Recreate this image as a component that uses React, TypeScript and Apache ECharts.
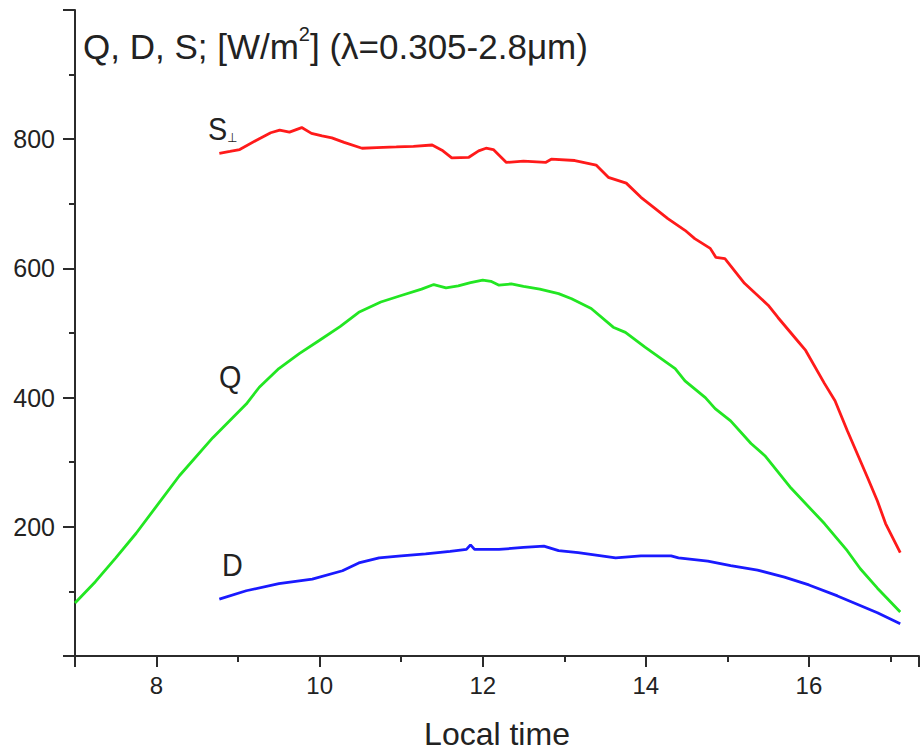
import React, { useEffect, useRef } from "react";
import * as echarts from "echarts";

// S⊥ (red)
const sTimes = [8.77, 8.9, 9.02, 9.22, 9.4, 9.51, 9.63, 9.78, 9.9, 10.03, 10.15, 10.3, 10.52, 10.7, 10.94, 11.15, 11.38, 11.5, 11.62, 11.83, 11.95, 12.04, 12.13, 12.29, 12.5, 12.77, 12.84, 13.13, 13.39, 13.54, 13.76, 13.94, 14.1, 14.27, 14.48, 14.6, 14.79, 14.86, 14.97, 15.21, 15.5, 15.62, 15.86, 15.96, 16.19, 16.32, 16.47, 16.72, 16.84, 16.94, 17.12];
const sValues = [778, 781, 784, 798, 810, 814, 811, 818, 809, 805, 802, 795, 786, 787, 788, 789, 791, 783, 771, 772, 782, 786, 784, 764, 766, 764, 769, 767, 760, 741, 732, 710, 694, 677, 659, 646, 631, 617, 615, 577, 543, 524, 488, 473, 422, 395, 349, 276, 240, 205, 160];

// Q (green)
const qTimes = [7.0, 7.25, 7.5, 7.75, 8.0, 8.28, 8.69, 9.1, 9.26, 9.5, 9.75, 9.99, 10.25, 10.48, 10.75, 11.0, 11.25, 11.4, 11.55, 11.7, 11.85, 12.0, 12.1, 12.2, 12.35, 12.5, 12.7, 12.93, 13.09, 13.33, 13.6, 13.75, 13.99, 14.36, 14.48, 14.73, 14.85, 15.04, 15.29, 15.46, 15.78, 16.19, 16.47, 16.63, 16.84, 17.12];
const qValues = [82, 115, 152, 190, 232, 279, 338, 390, 416, 445, 468, 488, 510, 532, 548, 558, 568, 575, 570, 573, 578, 582, 580, 574, 576, 572, 568, 561, 553, 538, 509, 501, 478, 445, 426, 400, 383, 364, 329, 310, 260, 205, 163, 135, 105, 68];

// D (blue)
const dTimes = [8.77, 9.1, 9.5, 9.91, 10.28, 10.48, 10.73, 11.0, 11.3, 11.6, 11.8, 11.85, 11.9, 12.2, 12.5, 12.75, 12.93, 13.17, 13.63, 13.94, 14.31, 14.4, 14.76, 15.04, 15.37, 15.7, 16.0, 16.35, 16.84, 17.12];
const dValues = [88, 101, 112, 119, 132, 144, 152, 155, 158, 162, 165, 172, 165, 165, 168, 170, 163, 160, 152, 155, 155, 152, 147, 140, 133, 122, 110, 93, 67, 50];

const xMin = 7;
const xMax = 17.35;
const yMin = 0;
const yMax = 1000;
const yLabels = [200, 400, 600, 800];
const xLabels = [8, 10, 12, 14, 16];

const FONT = "'Liberation Sans', Arial, Helvetica, sans-serif";

const pairs = (t: number[], v: number[]) => t.map((x, i) => [x, v[i]]);

export default function App() {
  const ref = useRef<HTMLDivElement>(null);
  useEffect(() => {
    if (!ref.current) return;
    const chart = echarts.init(ref.current, undefined, { renderer: "svg" });
    const axisColor = "#2b2b2b";
    const lineSeries = (name: string, data: number[][], color: string) => ({
      name,
      type: "line",
      data,
      xAxisIndex: 0,
      yAxisIndex: 0,
      showSymbol: false,
      symbol: "none",
      smooth: false,
      lineStyle: { color, width: 2.8 },
    });
    chart.setOption({
      animation: false,
      backgroundColor: "#ffffff",
      grid: { left: 75, right: 0, top: 10, bottom: 98, containLabel: false },
      xAxis: [
        {
          type: "value",
          position: "bottom",
          min: xMin,
          max: xMax,
          interval: 1,
          splitLine: { show: false },
          axisLine: { show: true, lineStyle: { color: axisColor, width: 2 } },
          axisTick: { show: true, length: 6, lineStyle: { color: axisColor, width: 2 } },
          axisLabel: {
            margin: 17,
            fontFamily: FONT,
            fontSize: 24,
            color: "#222",
            formatter: (v: number) => (xLabels.indexOf(v) >= 0 ? String(v) : ""),
          },
          name: "Local time",
          nameLocation: "middle",
          nameGap: 62,
          nameTextStyle: { fontFamily: FONT, fontSize: 32, color: "#222" },
        },
        {
          type: "value",
          position: "bottom",
          offset: 0,
          min: xMin,
          max: xMax,
          minInterval: 2,
          maxInterval: 2,
          splitLine: { show: false },
          axisLine: { show: false },
          axisTick: { show: true, length: 11, lineStyle: { color: axisColor, width: 2 } },
          axisLabel: { show: false },
        },
      ],
      yAxis: {
        type: "value",
        min: yMin,
        max: yMax,
        interval: 200,
        splitLine: { show: false },
        axisLine: { show: true, lineStyle: { color: axisColor, width: 2 } },
        axisTick: { show: true, length: 12, lineStyle: { color: axisColor, width: 2 } },
        minorTick: { show: true, splitNumber: 2, length: 6, lineStyle: { color: axisColor, width: 2 } },
        axisLabel: {
          margin: 20,
          fontFamily: FONT,
          fontSize: 25,
          color: "#222",
          formatter: (v: number) => (yLabels.indexOf(v) >= 0 ? String(v) : ""),
        },
      },
      series: [
        lineSeries("S", pairs(sTimes, sValues), "#ff1a1a"),
        lineSeries("Q", pairs(qTimes, qValues), "#22e622"),
        lineSeries("D", pairs(dTimes, dValues), "#1a1aff"),
      ],
      graphic: [
        {
          type: "text",
          x: 83,
          y: 24,
          style: {
            text: "{a|Q, D, S; [W/m}{s|2}{a|] (λ=0.305-2.8μm)}",
            rich: {
              a: { fontFamily: FONT, fontSize: 35, fill: "#222", verticalAlign: "bottom", lineHeight: 40 },
              s: { fontFamily: FONT, fontSize: 20, fill: "#222", verticalAlign: "top", lineHeight: 40, padding: [0, 0, 16, 0] },
            },
          },
        },
        {
          type: "text",
          x: 208,
          y: 110,
          scaleX: 0.9,
          style: {
            text: "{a|S}{b|⊥}",
            rich: {
              a: { fontFamily: FONT, fontSize: 32, fill: "#222", lineHeight: 34, verticalAlign: "bottom" },
              b: { fontFamily: "'DejaVu Sans', sans-serif", fontSize: 13, fill: "#222", lineHeight: 34, verticalAlign: "bottom" },
            },
          },
        },
        {
          type: "text",
          x: 219,
          y: 360,
          scaleX: 0.9,
          style: { text: "Q", fontFamily: FONT, fontSize: 32, fill: "#222" },
        },
        {
          type: "text",
          x: 222,
          y: 548,
          scaleX: 0.9,
          style: { text: "D", fontFamily: FONT, fontSize: 32, fill: "#222" },
        },
      ],
    });
    return () => chart.dispose();
  }, []);
  return (
    <div
      ref={ref}
      style={{ position: "fixed", left: 0, top: 0, width: 922, height: 755, background: "#fff" }}
    />
  );
}
